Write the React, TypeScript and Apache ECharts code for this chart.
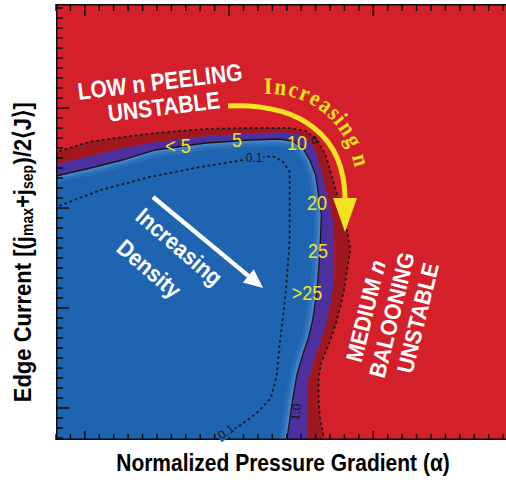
import React, { useEffect, useRef } from "react";
import * as echarts from "echarts";

// Stability-diagram boundaries in (alpha, edge-current) space.
// Outer edge of the dark-red marginal band (dotted line).
const outerEdge: number[][] = [
  [0.0, 2.88], [0.23, 2.98], [0.46, 3.03], [0.69, 3.07], [1.04, 3.11], [1.35, 3.12],
  [1.62, 3.12], [1.73, 3.09], [1.81, 3.0], [1.87, 2.85], [1.91, 2.65], [1.95, 2.45],
  [1.99, 2.25], [2.02, 2.08], [2.04, 1.9], [2.02, 1.72], [2.0, 1.52], [1.97, 1.32],
  [1.93, 1.12], [1.89, 0.95], [1.84, 0.78], [1.82, 0.62], [1.82, 0.42], [1.83, 0.22],
  [1.86, 0.0],
];
// Edge between the dark-red band and the purple band.
const purpleEdge: number[][] = [
  [0.0, 2.76], [0.24, 2.84], [0.46, 2.92], [0.69, 2.98], [1.04, 3.04], [1.35, 3.07],
  [1.59, 3.08], [1.68, 3.06], [1.75, 3.0], [1.8, 2.9], [1.83, 2.75], [1.86, 2.58],
  [1.89, 2.4], [1.92, 2.2], [1.93, 2.0], [1.93, 1.8], [1.93, 1.6], [1.91, 1.4],
  [1.88, 1.2], [1.84, 1.0], [1.79, 0.8], [1.75, 0.6], [1.74, 0.4], [1.74, 0.0],
];
// Growth-rate contour 1.0 (solid line, edge of the stable region).
const contour10: number[][] = [
  [0.0, 2.64], [0.24, 2.72], [0.46, 2.8], [0.69, 2.9], [1.04, 2.97], [1.35, 3.0],
  [1.55, 3.01], [1.64, 2.99], [1.71, 2.92], [1.76, 2.8], [1.8, 2.65], [1.82, 2.45],
  [1.84, 2.25], [1.83, 1.9], [1.81, 1.5], [1.78, 1.2], [1.75, 1.02], [1.71, 0.85],
  [1.67, 0.65], [1.64, 0.4], [1.62, 0.2], [1.6, 0.0],
];
// Growth-rate contour 0.1 (dotted line).
const contour01: number[][] = [
  [0.0, 2.33], [0.31, 2.5], [0.65, 2.63], [1.0, 2.73], [1.3, 2.8], [1.5, 2.84],
  [1.57, 2.79], [1.62, 2.68], [1.62, 2.4], [1.62, 2.0], [1.6, 1.6], [1.58, 1.3],
  [1.55, 0.95], [1.53, 0.65], [1.49, 0.42], [1.4, 0.28], [1.28, 0.15], [1.1, 0.0],
];

// Toroidal mode numbers along the boundary: [text, px x, px y]
const modeLabels: [string, number, number][] = [
  ["< 5", 178, 146], ["5", 237, 140], ["10", 297, 143],
  ["20", 317, 203], ["25", 318, 251], [">25", 307, 293],
];

// Axis extents and tick positions
const X_MIN = 0, X_MAX = 3.12;
const Y_MIN = 0, Y_MAX = 4.36;
const xMinorTicks = [
  0, 0.1, 0.3, 0.4, 0.5, 0.6, 0.7, 0.8, 0.9, 1.0, 1.1, 1.3, 1.4, 1.5, 1.6, 1.7,
  1.8, 1.9, 2.0, 2.1, 2.3, 2.4, 2.5, 2.6, 2.7, 2.8, 2.9, 3.0, 3.1,
];
const xMajorTicks = [0.2, 1.2, 2.2];
const yMinorTicks = [
  0.02, 0.12, 0.22, 0.42, 0.52, 0.62, 0.72, 0.82, 0.92, 1.02, 1.12, 1.22, 1.42, 1.52,
  1.62, 1.72, 1.82, 1.92, 2.02, 2.12, 2.22, 2.42, 2.52, 2.62, 2.72, 2.82, 2.92, 3.02,
  3.12, 3.22, 3.42, 3.52, 3.62, 3.72, 3.82, 3.92, 4.02, 4.12, 4.22, 4.32,
];
const yMajorTicks = [0.32, 1.32, 2.32, 3.32];

const RED = "#d3202a";
const DARK_RED = "#a0171f";
const PURPLE = "#4d309e";
const BLUE = "#1f64b1";
const FRINGE = "#79b0e6";
const YELLOW = "#f2e421";
const INK = "#161616";
const SANS = '"Liberation Sans", Arial, Helvetica, sans-serif';
const SERIF = '"Liberation Serif", "Times New Roman", serif';

function extendEdges(pts: number[][]) {
  const first = pts[0];
  const last = pts[pts.length - 1];
  return [[first[0] - 0.2, first[1]], ...pts, [last[0], last[1] - 0.2]];
}

function txt(text: string, x: number, y: number, o: any = {}) {
  return {
    type: "text",
    x,
    y,
    z: 50,
    rotation: o.rot || 0,
    scaleY: o.sy || 1,
    style: {
      text,
      fill: o.color || "#fff",
      fontSize: o.size || 21,
      fontWeight: o.weight || "bold",
      fontStyle: o.italic ? "italic" : "normal",
      fontFamily: o.family || SANS,
      align: "center",
      textAlign: "center",
      verticalAlign: "middle",
      textVerticalAlign: "middle",
      backgroundColor: o.bg,
      padding: o.bg ? [0, 1] : 0,
      rich: o.rich,
    },
  };
}

// Lay letters of a string along a cubic curve (for the curved annotation).
function textOnCurve(text: string, font: string, size: number, c: number[][], color: string) {
  const ctx = document.createElement("canvas").getContext("2d")!;
  ctx.font = `bold ${size}px ${font}`;
  const widths = [...text].map((ch) => ctx.measureText(ch).width);
  const N = 400;
  const pts: number[][] = [];
  const cum: number[] = [0];
  const bez = (t: number) => {
    const u = 1 - t;
    return [
      u * u * u * c[0][0] + 3 * u * u * t * c[1][0] + 3 * u * t * t * c[2][0] + t * t * t * c[3][0],
      u * u * u * c[0][1] + 3 * u * u * t * c[1][1] + 3 * u * t * t * c[2][1] + t * t * t * c[3][1],
    ];
  };
  for (let i = 0; i <= N; i++) {
    pts.push(bez(i / N));
    if (i > 0) cum.push(cum[i - 1] + Math.hypot(pts[i][0] - pts[i - 1][0], pts[i][1] - pts[i - 1][1]));
  }
  const L = cum[N];
  const total = widths.reduce((a, b) => a + b, 0);
  const span = total - widths[0] / 2 - widths[widths.length - 1] / 2;
  const k = L / span;
  const out: any[] = [];
  let before = 0;
  [...text].forEach((ch, i) => {
    const s = (before + widths[i] / 2 - widths[0] / 2) * k;
    before += widths[i];
    if (ch === " ") return;
    let j = 1;
    while (j < N && cum[j] < s) j++;
    const a = pts[j - 1], b = pts[j];
    const f = (s - cum[j - 1]) / Math.max(1e-6, cum[j] - cum[j - 1]);
    const px = a[0] + (b[0] - a[0]) * f;
    const py = a[1] + (b[1] - a[1]) * f;
    const ang = Math.atan2(b[1] - a[1], b[0] - a[0]);
    out.push(txt(ch, px, py, { rot: -ang, color, size, family: font, sy: 1.12 }));
  });
  return out;
}

// Tick marks along the bottom, top and left edges: one data item per tick.
// item = [value, edge (0 bottom+top for x, 1 left for y), major flag]
const tickItems: number[][] = [
  ...xMinorTicks.map((v) => [v, 0, 0]),
  ...xMajorTicks.map((v) => [v, 0, 1]),
  ...yMinorTicks.map((v) => [v, 1, 0]),
  ...yMajorTicks.map((v) => [v, 1, 1]),
];

function buildOption() {
  // Filled stability regions and contour lines.
  const renderRegions = (_params: any, api: any) => {
    const px = (pts: number[][]) => pts.map((p) => api.coord(p));
    const corner = api.coord([X_MIN - 0.2, Y_MIN - 0.2]);
    const closeToCorner = (pts: number[][]) => {
      const last = pts[pts.length - 1];
      return [...pts, [last[0], corner[1]], [corner[0], corner[1]], [corner[0], pts[0][1]]];
    };
    const outer = px(extendEdges(outerEdge));
    const purple = px(extendEdges(purpleEdge));
    const c10 = px(extendEdges(contour10));
    const c01 = px(extendEdges(contour01));
    const dotted = { stroke: INK, lineWidth: 1.8, lineDash: [1.2, 4.3], lineCap: "round", fill: "none" };
    const bl = api.coord([X_MIN, Y_MIN]);
    const tr = api.coord([X_MAX, Y_MAX]);
    const frame = { stroke: "#0d0d0d", lineWidth: 1.5, fill: "none" };
    return {
      type: "group",
      children: [
        { type: "polygon", shape: { points: closeToCorner(c10) }, style: { fill: BLUE } },
        { type: "polyline", shape: { points: c10 }, style: { stroke: FRINGE, lineWidth: 14, opacity: 0.14, fill: "none", lineJoin: "round" } },
        { type: "polyline", shape: { points: c10 }, style: { stroke: FRINGE, lineWidth: 8, opacity: 0.2, fill: "none", lineJoin: "round" } },
        { type: "polyline", shape: { points: c10 }, style: { stroke: FRINGE, lineWidth: 4, opacity: 0.25, fill: "none", lineJoin: "round" } },
        { type: "polygon", shape: { points: [...purple, ...c10.slice().reverse()] }, style: { fill: PURPLE } },
        { type: "polygon", shape: { points: [...outer, ...purple.slice().reverse()] }, style: { fill: DARK_RED } },
        { type: "polyline", shape: { points: c10 }, style: { stroke: INK, lineWidth: 1.3, fill: "none" } },
        { type: "polyline", shape: { points: outer }, style: dotted },
        { type: "polyline", shape: { points: c01 }, style: dotted },
        { type: "polyline", shape: { points: [[tr[0], tr[1] + 0.75], [bl[0] + 0.75, tr[1] + 0.75], [bl[0] + 0.75, bl[1] - 0.75], [tr[0], bl[1] - 0.75]] }, style: frame },
      ],
    };
  };

  const renderTick = (_params: any, api: any) => {
    const v = api.value(0);
    const edge = api.value(1);
    const major = api.value(2) === 1;
    const bl = api.coord([X_MIN, Y_MIN]);
    const tr = api.coord([X_MAX, Y_MAX]);
    const st = { stroke: "#0d0d0d", lineWidth: 1.5 };
    if (edge === 0) {
      const x = api.coord([v, Y_MIN])[0];
      const lb = major ? 9 : 6;
      const lt = major ? 12 : 7;
      return {
        type: "group",
        children: [
          { type: "line", shape: { x1: x, y1: bl[1], x2: x, y2: bl[1] - lb }, style: st },
          { type: "line", shape: { x1: x, y1: tr[1], x2: x, y2: tr[1] + lt }, style: st },
        ],
      };
    }
    const y = api.coord([X_MIN, v])[1];
    const len = major ? 13 : 7;
    return { type: "line", shape: { x1: bl[0], y1: y, x2: bl[0] + len, y2: y }, style: st };
  };

  const arrowDir = [263 - 153, 288 - 197];
  const dl = Math.hypot(arrowDir[0], arrowDir[1]);
  const ux = arrowDir[0] / dl, uy = arrowDir[1] / dl;
  const tip = [263, 288];
  const base = [tip[0] - 19 * ux, tip[1] - 19 * uy];
  const hw = 8.5;

  const graphics: any[] = [
    // curved "Increasing n" arrow
    {
      type: "bezierCurve", z: 40,
      shape: { x1: 228, y1: 106, cpx1: 300, cpy1: 103, cpx2: 345, cpy2: 135, x2: 345, y2: 200 },
      style: { stroke: YELLOW, lineWidth: 5, fill: "none" },
    },
    {
      type: "polygon", z: 40,
      shape: { points: [[333, 198], [357, 198], [345, 232]] },
      style: { fill: YELLOW },
    },
    // "Increasing Density" arrow
    {
      type: "line", z: 40,
      shape: { x1: 153, y1: 197, x2: base[0], y2: base[1] },
      style: { stroke: "#fff", lineWidth: 4.5 },
    },
    {
      type: "polygon", z: 40,
      shape: {
        points: [tip, [base[0] - uy * hw, base[1] + ux * hw], [base[0] + uy * hw, base[1] - ux * hw]],
      },
      style: { fill: "#fff" },
    },
    txt("LOW n PEELING", 160, 82, { rot: 0.12, sy: 1.15 }),
    txt("UNSTABLE", 164, 107, { rot: 0.12, sy: 1.15 }),
    txt("MEDIUM {i|n}", 366, 311, {
      rot: 1.33, sy: 1.1,
      rich: { i: { fontStyle: "italic", fontWeight: "bold", fontSize: 21, fontFamily: SANS, fill: "#fff" } },
    }),
    txt("BALOONING", 392, 315, { rot: 1.33, sy: 1.1 }),
    txt("UNSTABLE", 418, 318, { rot: 1.33, sy: 1.1 }),
    txt("Increasing", 179, 247, { rot: -0.71, sy: 1.12 }),
    txt("Density", 149, 269, { rot: -0.71, sy: 1.12 }),
    ...modeLabels.map(([t, x, y]) => txt(t, x, y, { color: YELLOW, size: 18, weight: "normal", sy: 1.15 })),
    txt("0.1", 254, 158, { color: INK, size: 12, weight: "normal", bg: BLUE }),
    txt("0.1", 226, 432, { color: INK, size: 12, weight: "normal", rot: 0.6, bg: BLUE }),
    txt("1.0", 296, 412, { color: INK, size: 12, weight: "normal", rot: 1.45 }),
    txt("0", 314, 140, { color: INK, size: 11, weight: "normal" }),
    ...textOnCurve("Increasing n", SERIF, 21, [[268, 86], [304, 86], [347, 105], [361, 160]], YELLOW),
    // axis titles
    txt("Normalized Pressure Gradient (\u03b1)", 283, 463, { color: "#000", size: 21, sy: 1.15 }),
    txt("Edge Current [(j{s|max}+j{s|sep})/2\u27e8J\u27e9]", 23, 252, {
      color: "#000", size: 22, sy: 1.12, rot: Math.PI / 2,
      rich: {
        s: { fontSize: 14, fontWeight: "bold", fontFamily: SANS, fill: "#000", verticalAlign: "bottom", lineHeight: 14 },
      },
    }),
  ];

  return {
    animation: false,
    backgroundColor: "#fff",
    grid: { left: 56, top: 4, right: 0, bottom: 40, show: true, backgroundColor: RED, borderWidth: 0 },
    xAxis: { type: "value", min: X_MIN, max: X_MAX, show: false },
    yAxis: { type: "value", min: Y_MIN, max: Y_MAX, show: false },
    series: [
      {
        type: "custom",
        coordinateSystem: "cartesian2d",
        clip: true,
        silent: true,
        z: 2,
        data: [[0, 0]],
        renderItem: renderRegions,
      },
      {
        type: "custom",
        coordinateSystem: "cartesian2d",
        clip: false,
        silent: true,
        z: 5,
        encode: { x: -1, y: -1 },
        dimensions: ["v", "edge", "major"],
        data: tickItems,
        renderItem: renderTick,
      },
    ],
    graphic: graphics,
  };
}

export default function App() {
  const ref = useRef<HTMLDivElement>(null);
  useEffect(() => {
    if (!ref.current) return;
    const chart = echarts.init(ref.current, undefined, { renderer: "svg" });
    chart.setOption(buildOption() as any);
    return () => chart.dispose();
  }, []);
  return (
    <div
      ref={ref}
      style={{ position: "fixed", left: 0, top: 0, width: 506, height: 480, background: "#fff" }}
    />
  );
}
